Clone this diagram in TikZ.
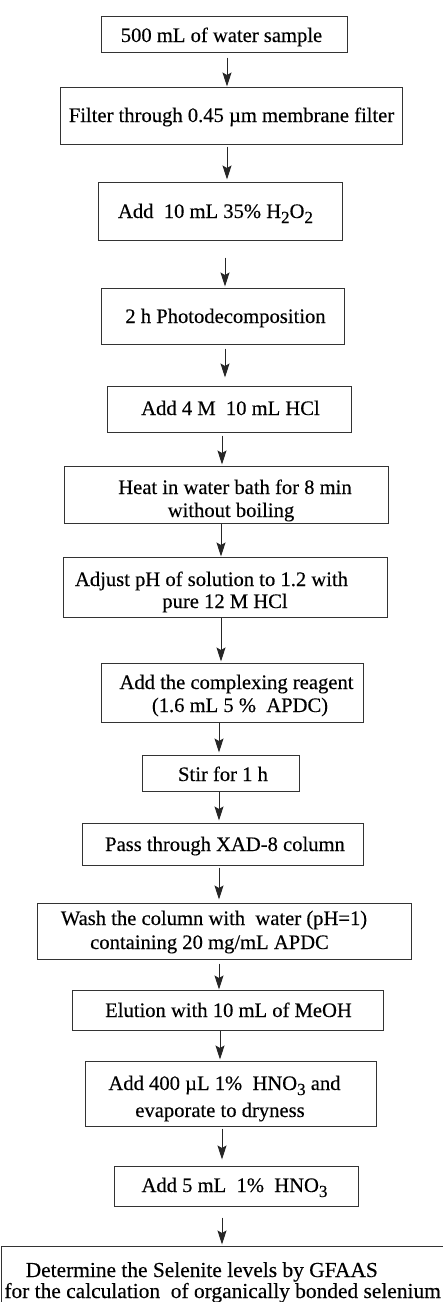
\documentclass[tikz,border=0pt]{standalone}
\usepackage{fontspec}
\setmainfont{Liberation Serif}[FakeBold=0.3]
\usetikzlibrary{arrows.meta}
\newcommand\subs[1]{\raisebox{-5pt}{\fontsize{17}{17}\selectfont #1}}
\tikzset{
  box/.style={draw=black!80, line width=1pt, rectangle, inner sep=0pt},
  txt/.style={inner sep=0pt, font=\fontsize{20.6}{23}\selectfont, anchor=base, text=black},
  bigtxt/.style={txt, font=\fontsize{21.4}{23}\selectfont},
  arr/.style={draw=black!85, line width=1pt, -{Stealth[length=14pt,width=9pt,inset=2.5pt]}}
}
\begin{document}
\begin{tikzpicture}[x=1pt,y=-1pt]
\useasboundingbox (0,0) rectangle (443,1302);
\fill[white] (0,0) rectangle (443,1302);
\begin{scope}
\clip (0,0) rectangle (443,1302);
% boxes
\node[box, minimum width=246pt, minimum height=36pt] (b1) at (224,34) {};
\node[box, minimum width=342pt, minimum height=57pt] (b2) at (231,115.5) {};
\node[box, minimum width=244pt, minimum height=58pt] (b3) at (220,211) {};
\node[box, minimum width=243pt, minimum height=56pt] (b4) at (222.5,316) {};
\node[box, minimum width=244pt, minimum height=46pt] (b5) at (229,409) {};
\node[box, minimum width=324pt, minimum height=57pt] (b6) at (226,494.5) {};
\node[box, minimum width=324pt, minimum height=60pt] (b7) at (225,587) {};
\node[box, minimum width=262pt, minimum height=59pt] (b8) at (232,692.5) {};
\node[box, minimum width=157pt, minimum height=36pt] (b9) at (220.5,773) {};
\node[box, minimum width=281pt, minimum height=42pt] (b10) at (222.5,844) {};
\node[box, minimum width=374pt, minimum height=56pt] (b11) at (224,931) {};
\node[box, minimum width=311pt, minimum height=40pt] (b12) at (227.5,1010) {};
\node[box, minimum width=291pt, minimum height=65pt] (b13) at (230.5,1093.5) {};
\node[box, minimum width=244pt, minimum height=40pt] (b14) at (236,1186) {};
\node[box, minimum width=450pt, minimum height=74pt] (b15) at (226,1283) {};
% texts
\node[txt] (t1) at (221.5,42) {500 mL of water sample};
\node[txt] (t2) at (231.5,122) {Filter through 0.45 µm membrane filter};
\node[txt] (t3) at (215.5,218) {Add\ \ 10 mL\ 35\% H\subs{2}O\subs{2}};
\node[txt] (t4) at (225.5,323) {2 h Photodecomposition};
\node[txt] (t5) at (230.5,415) {Add 4 M\ \ 10 mL HCl};
\node[txt] (t6a) at (235,494) {Heat in water bath for 8 min};
\node[txt] (t6b) at (231,517) {without boiling};
\node[txt] (t7a) at (211.5,586) {Adjust pH of solution to 1.2 with};
\node[txt] (t7b) at (225,608) {pure 12 M HCl};
\node[txt] (t8a) at (236.5,689) {Add the complexing reagent};
\node[txt] (t8b) at (240,712) {(1.6 mL 5 \%\ \ APDC)};
\node[txt] (t9) at (223,781) {Stir for 1 h};
\node[txt] (t10) at (225,851) {Pass through XAD-8 column};
\node[txt] (t11a) at (214,925) {Wash the column with\ \ water (pH=1)};
\node[txt] (t11b) at (209.5,949) {containing 20 mg/mL APDC};
\node[txt] (t12) at (228.5,1017) {Elution with 10 mL of MeOH};
\node[txt] (t13a) at (224.5,1090) {Add 400 µL 1\%\ \ HNO\subs{3} and};
\node[txt] (t13b) at (220,1117) {evaporate to dryness};
\node[txt] (t14) at (234.5,1192) {Add 5 mL\ \ 1\%\ \ HNO\subs{3}};
\node[bigtxt, anchor=base east] (t15a) at (378,1277) {Determine the Selenite levels by GFAAS};
\node[bigtxt, anchor=base east] (t15b) at (441,1298) {for the calculation\ \ of organically bonded selenium};
% arrow columns
\coordinate (x1) at (227,0);
\coordinate (x3) at (225,0);
\coordinate (x5) at (222,0);
\coordinate (x6) at (221,0);
\coordinate (x8) at (219,0);
\coordinate (x12) at (220,0);
\draw[arr, shorten <=5pt] (b1.south -| x1) -- (b2.north -| x1);
\draw[arr, shorten <=2pt, shorten >=2pt] (b2.south -| x1) -- (b3.north -| x1);
\draw[arr, shorten <=17pt, shorten >=1pt] (b3.south -| x3) -- (b4.north -| x3);
\draw[arr, shorten <=4pt, shorten >=8pt] (b4.south -| x3) -- (b5.north -| x3);
\draw[arr, shorten <=3pt, shorten >=1pt] (b5.south -| x5) -- (b6.north -| x5);
\draw[arr] (b6.south -| x6) -- (b7.north -| x6);
\draw[arr, shorten >=1pt] (b7.south -| x6) -- (b8.north -| x6);
\draw[arr, shorten >=2pt] (b8.south -| x8) -- (b9.north -| x8);
\draw[arr, shorten >=2pt] (b9.south -| x8) -- (b10.north -| x8);
\draw[arr, shorten <=2pt, shorten >=3pt] (b10.south -| x8) -- (b11.north -| x8);
\draw[arr, shorten <=4pt] (b11.south -| x8) -- (b12.north -| x8);
\draw[arr, shorten >=1pt] (b12.south -| x12) -- (b13.north -| x12);
\draw[arr, shorten <=2pt, shorten >=6pt] (b13.south -| x5) -- (b14.north -| x5);
\draw[arr, shorten <=11pt, shorten >=1pt] (b14.south -| x5) -- (b15.north -| x5);
\end{scope}
\end{tikzpicture}
\end{document}
